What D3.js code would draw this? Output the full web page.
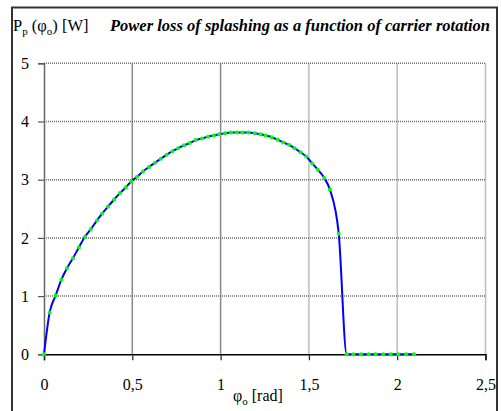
<!DOCTYPE html>
<html>
<head>
<meta charset="utf-8">
<script src="https://cdnjs.cloudflare.com/ajax/libs/d3/7.8.5/d3.min.js"></script>
<style>
  body { margin: 0; background: #fff; }
  text { font-family: "Liberation Serif", "Times New Roman", serif; fill: #000; }
</style>
</head>
<body>
<div id="chart"></div>
<script>
// carrier rotation [rad] and power loss [W]
var phi = [0, 0.032, 0.066, 0.098, 0.13, 0.164, 0.198, 0.232, 0.265, 0.3,
  0.33, 0.363, 0.397, 0.43, 0.464, 0.494, 0.527, 0.56, 0.595, 0.628,
  0.661, 0.695, 0.727, 0.759, 0.793, 0.825, 0.859, 0.895, 0.929, 0.961,
  0.993, 1.025, 1.059, 1.091, 1.123, 1.157, 1.193, 1.225, 1.255, 1.289,
  1.323, 1.355, 1.387, 1.419, 1.453, 1.485, 1.519, 1.551, 1.587, 1.619,
  1.669, 1.714, 1.752, 1.795, 1.839, 1.878, 1.921, 1.963, 2.006, 2.05, 2.095];
var power = [0, 0.72, 1.01, 1.28, 1.48, 1.65, 1.84, 2.02, 2.15, 2.30,
  2.42, 2.54, 2.66, 2.77, 2.87, 2.97, 3.05, 3.14, 3.22, 3.29,
  3.36, 3.43, 3.49, 3.54, 3.59, 3.63, 3.68, 3.71, 3.74, 3.76,
  3.78, 3.80, 3.81, 3.81, 3.81, 3.81, 3.80, 3.78, 3.76, 3.73,
  3.69, 3.64, 3.60, 3.54, 3.47, 3.40, 3.28, 3.17, 3.03, 2.83,
  2.07, 0, 0, 0, 0, 0, 0, 0, 0, 0, 0];

var xTicks = [0, 0.5, 1, 1.5, 2, 2.5];
var xTickLabels = ["0", "0,5", "1", "1,5", "2", "2,5"];
var yTicks = [0, 1, 2, 3, 4, 5];

var width = 501, height = 411;
var margin = { top: 63.3, right: 15.5, bottom: 56.7, left: 44 };
var w = width - margin.left - margin.right,
  h = height - margin.top - margin.bottom;

var data = phi.map(function(d, i) { return { x: d, y: power[i] }; });

var svg = d3.select("#chart").append("svg")
  .attr("width", width).attr("height", height);

// outer frame
svg.append("rect")
  .attr("x", 12).attr("y", 7.5)
  .attr("width", 485).attr("height", 410)
  .attr("fill", "none").attr("stroke", "#333").attr("stroke-width", 2);

var g = svg.append("g")
  .attr("transform", "translate(" + margin.left + "," + margin.top + ")");

var x = d3.scaleLinear().domain([0, 2.5]).range([0, w]);
var y = d3.scaleLinear().domain([0, 5]).range([h, 0]);

// grid
g.selectAll(".vgrid").data(xTicks.slice(1)).enter().append("line")
  .attr("x1", function(d) { return x(d); }).attr("x2", function(d) { return x(d); })
  .attr("y1", 0).attr("y2", h)
  .attr("stroke", function(d) { return d === 0.5 || d === 1 ? "#8a8a8a" : "#bdbdbd"; })
  .attr("stroke-width", 1.5);

g.selectAll(".hgrid").data(yTicks.slice(1)).enter().append("line")
  .attr("x1", 0).attr("x2", w)
  .attr("y1", function(d) { return y(d); }).attr("y2", function(d) { return y(d); })
  .attr("stroke", "#6e6e6e").attr("stroke-width", 1.5)
  .attr("stroke-dasharray", "1,1");

// axes
var yAxis = g.append("g").call(d3.axisLeft(y).tickValues(yTicks).tickSize(6).tickPadding(9)
  .tickFormat(d3.format("d")));
var xAxis = g.append("g").attr("transform", "translate(0," + h + ")")
  .call(d3.axisBottom(x).tickValues(xTicks).tickSize(6).tickPadding(18)
    .tickFormat(function(d, i) { return xTickLabels[i]; }));

yAxis.select(".domain").attr("stroke", "#666").attr("stroke-width", 1.5);
xAxis.select(".domain").attr("stroke", "#000").attr("stroke-width", 1.5);
yAxis.selectAll(".tick line").attr("stroke", "#555").attr("stroke-width", 1.2);
xAxis.selectAll(".tick line").attr("stroke", "#222").attr("stroke-width", 1.2);
g.selectAll(".tick text")
  .style("font-family", "Liberation Serif, Times New Roman, serif")
  .style("font-size", "16px").attr("fill", "#000");

// curve
var line = d3.line()
  .curve(d3.curveMonotoneX)
  .x(function(d) { return x(d.x); })
  .y(function(d) { return y(d.y); });

g.append("path").datum(data)
  .attr("d", line)
  .attr("fill", "none").attr("stroke", "#0000ff").attr("stroke-width", 2);

g.selectAll(".pt").data(data).enter().append("circle")
  .attr("cx", function(d) { return x(d.x); })
  .attr("cy", function(d) { return y(d.y); })
  .attr("r", 2)
  .attr("fill", "#00ff00");

// labels
var yl = svg.append("text").attr("x", 13).attr("y", 31).style("font-size", "16.5px");
yl.append("tspan").text("P");
yl.append("tspan").attr("dy", 4).style("font-size", "11px").text("p");
yl.append("tspan").attr("dy", -4).text(" (φ");
yl.append("tspan").attr("dy", 4).style("font-size", "11px").text("o");
yl.append("tspan").attr("dy", -4).text(") [W]");

svg.append("text")
  .attr("x", 110).attr("y", 31)
  .style("font-size", "16.5px").style("font-weight", "bold").style("font-style", "italic")
  .text("Power loss of splashing as a function of carrier rotation");

var xl = svg.append("text").attr("x", 233).attr("y", 401).style("font-size", "16px");
xl.append("tspan").text("φ");
xl.append("tspan").attr("dy", 4).style("font-size", "11px").text("o");
xl.append("tspan").attr("dy", -4).text(" [rad]");
</script>
</body>
</html>
